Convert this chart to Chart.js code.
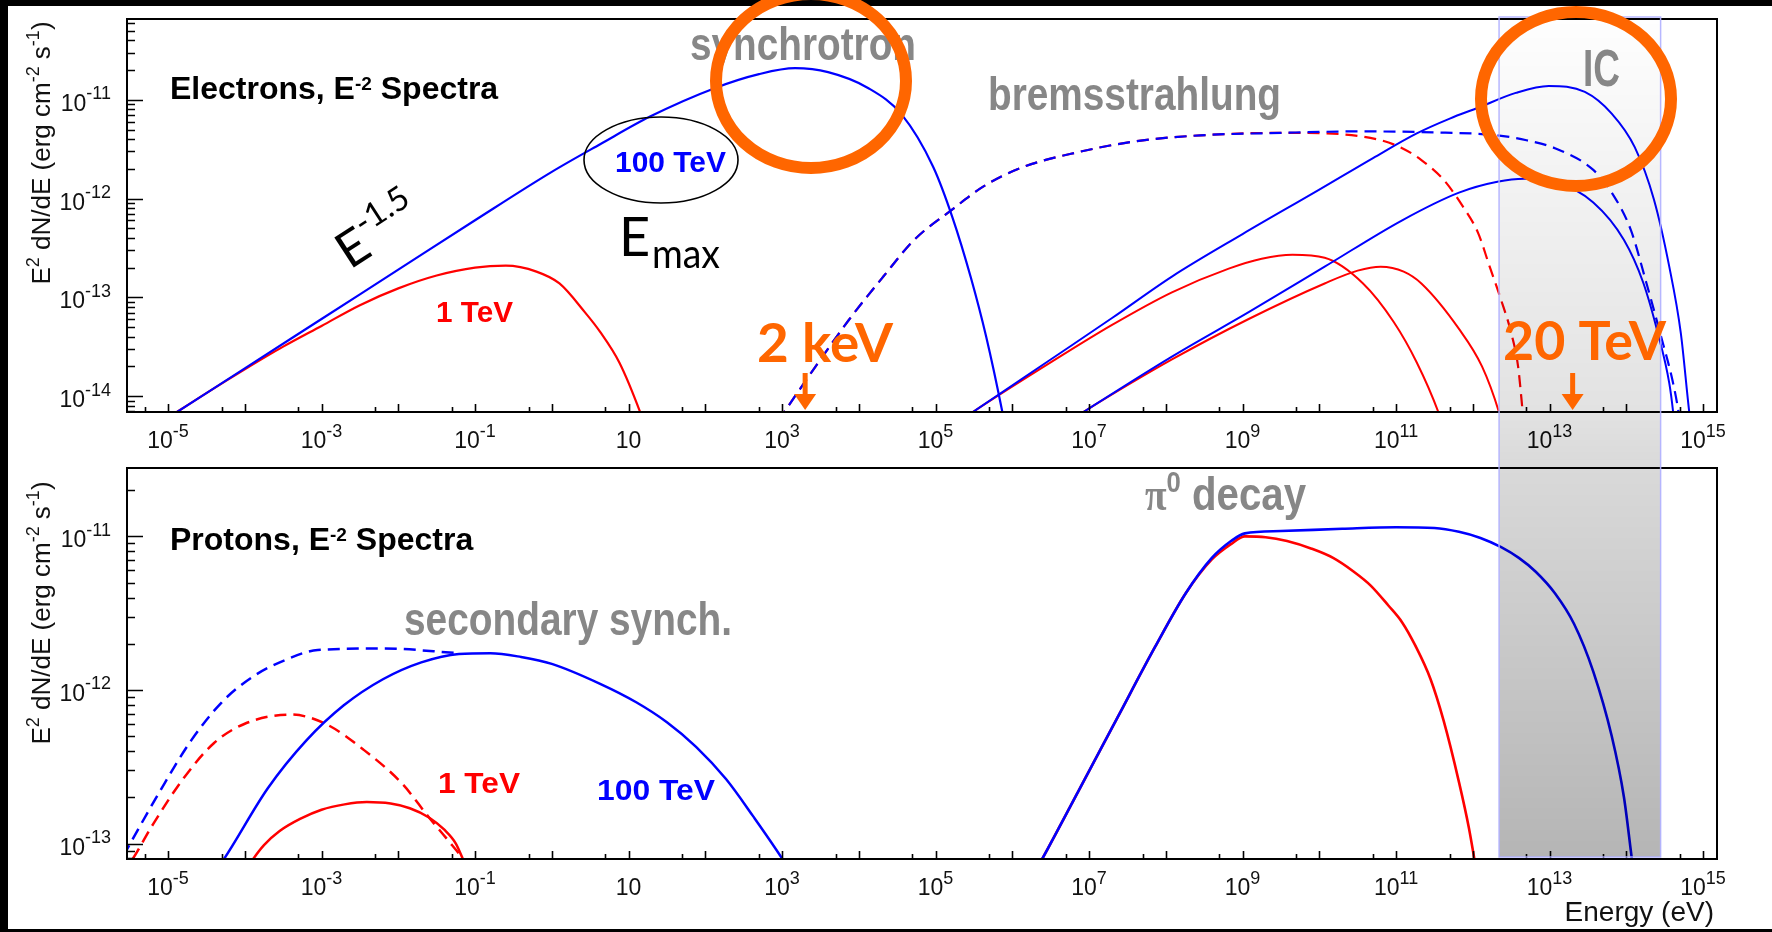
<!DOCTYPE html>
<html>
<head>
<meta charset="utf-8">
<title>Electron and proton E^-2 spectra</title>
<script src="https://cdn.jsdelivr.net/npm/chart.js@4.4.1/dist/chart.umd.min.js"></script>
<style>
  html, body { margin: 0; padding: 0; background: #000; }
  #page { position: relative; width: 1772px; height: 932px; background: #000; overflow: hidden; }
  #paper { position: absolute; left: 8px; top: 6px; width: 1764px; height: 923px; background: #fff; }
  canvas { position: absolute; left: 0; }
  #topChart { top: 0; }
  #bottomChart { top: 466px; }
  #notes { top: 0; pointer-events: none; }
</style>
</head>
<body>
<div id="page">
  <div id="paper"></div>
  <canvas id="topChart" width="1772" height="466" style="width:1772px;height:466px"></canvas>
  <canvas id="bottomChart" width="1772" height="466" style="width:1772px;height:466px"></canvas>
  <canvas id="notes" width="1772" height="932" style="width:1772px;height:932px"></canvas>
</div>
<script>
// ---- Axis ranges: photon energy (eV) and E^2 dN/dE (erg cm^-2 s^-1) ----
const energyRange = [2.92e-6, 1.52e15];
const fluxRangeElectrons = [6.89e-15, 6.58e-11];
const fluxRangeProtons = [7.93e-14, 2.79e-11];

// ---- Tick labels ----
const xTickValues = [1e-5, 1e-3, 1e-1, 1e1, 1e3, 1e5, 1e7, 1e9, 1e11, 1e13, 1e15];
const xTickLabels = ['10^-5', '10^-3', '10^-1', '10', '10^3', '10^5', '10^7', '10^9', '10^11', '10^13', '10^15'];
const yTickValuesElectrons = [1e-11, 1e-12, 1e-13, 1e-14];
const yTickLabelsElectrons = ['10^-11', '10^-12', '10^-13', '10^-14'];
const yTickValuesProtons = [1e-11, 1e-12, 1e-13];
const yTickLabelsProtons = ['10^-11', '10^-12', '10^-13'];

// Energy window shaded across both panels (eV)
const bandRange = [2.2e12, 2.8e14];
// Marked photon energies (eV) and their labels
const markerEnergies = [2e3, 2e13];
const markerLabels = ['2 keV', '20 TeV'];

// ---- Spectra, each point is [log10 E (eV), log10 E^2 dN/dE] ----
// Electrons: synchrotron
const elecSynch100 = [[-5.0,-14.22],[-4,-13.72],[-3,-13.22],[-2,-12.72],[-1,-12.22],[0,-11.73],[0.63,-11.45],[1.28,-11.17],[2.13,-10.88],[2.7,-10.74],[3.17,-10.68],[3.6,-10.72],[4.12,-10.88],[4.56,-11.15],[4.97,-11.68],[5.22,-12.19],[5.46,-12.80],[5.66,-13.40],[5.87,-14.16],[6.0,-14.7]];
const elecSynch1 = [[-5.0,-14.22],[-4.5,-13.97],[-4,-13.73],[-3.5,-13.50],[-3,-13.29],[-2.5,-13.08],[-2,-12.91],[-1.5,-12.78],[-1,-12.70],[-0.6,-12.68],[-0.2,-12.74],[0.1,-12.86],[0.43,-13.15],[0.63,-13.35],[0.88,-13.66],[1.15,-14.16],[1.3,-14.5]];
// Electrons: bremsstrahlung
const elecBrems100 = [[2.95,-14.25],[3.03,-14.16],[3.42,-13.72],[3.87,-13.23],[4.32,-12.79],[4.72,-12.42],[5.22,-12.11],[5.62,-11.88],[6.11,-11.69],[6.86,-11.53],[7.61,-11.42],[8.45,-11.36],[9.5,-11.335],[10.5,-11.32],[11.5,-11.33],[12.32,-11.36],[12.7,-11.41],[13.07,-11.49],[13.57,-11.71],[13.81,-11.94],[14.06,-12.32],[14.26,-12.85],[14.44,-13.36],[14.61,-13.87],[14.68,-14.16],[14.72,-14.4]];
const elecBrems1 = [[2.95,-14.25],[3.03,-14.16],[3.42,-13.72],[3.87,-13.23],[4.32,-12.79],[4.72,-12.42],[5.22,-12.11],[5.62,-11.88],[6.11,-11.69],[6.86,-11.53],[7.61,-11.42],[8.45,-11.36],[9.5,-11.335],[10.07,-11.34],[10.78,-11.405],[11.08,-11.49],[11.33,-11.61],[11.62,-11.81],[11.87,-12.08],[12.07,-12.35],[12.22,-12.69],[12.37,-13.03],[12.5,-13.36],[12.59,-13.70],[12.65,-14.16],[12.68,-14.4]];
// Electrons: inverse Compton (two target photon fields)
const elecIC100a = [[5.3,-14.26],[5.49,-14.16],[6.5,-13.63],[7.3,-13.21],[8.08,-12.79],[9.0,-12.36],[10.0,-11.91],[10.7,-11.59],[11.27,-11.34],[11.7,-11.19],[12.07,-11.08],[12.56,-10.93],[12.99,-10.86],[13.46,-10.92],[13.81,-11.14],[14.11,-11.48],[14.36,-12.01],[14.56,-12.69],[14.71,-13.36],[14.82,-14.16],[14.86,-14.4]];
const elecIC100b = [[6.75,-14.25],[6.93,-14.16],[8.08,-13.60],[9.08,-13.15],[10.07,-12.69],[11.08,-12.22],[11.82,-11.94],[12.32,-11.83],[12.67,-11.80],[13.07,-11.83],[13.57,-12.04],[13.97,-12.42],[14.22,-12.85],[14.41,-13.36],[14.56,-13.87],[14.61,-14.16],[14.64,-14.4]];
const elecIC1a = [[5.3,-14.26],[5.49,-14.16],[6.5,-13.66],[7.3,-13.28],[8.08,-12.95],[8.82,-12.71],[9.25,-12.61],[9.65,-12.57],[10.07,-12.60],[10.57,-12.86],[10.97,-13.25],[11.27,-13.66],[11.55,-14.16],[11.65,-14.4]];
const elecIC1b = [[6.75,-14.25],[6.93,-14.16],[8.08,-13.63],[9.08,-13.22],[10.07,-12.86],[10.5,-12.73],[10.8,-12.69],[11.1,-12.74],[11.33,-12.86],[11.82,-13.32],[12.12,-13.70],[12.34,-14.16],[12.42,-14.4]];

// Protons: synchrotron from secondary electrons
const protSec100Dash = [[-5.7,-13.19],[-5.47,-12.98],[-5.095,-12.65],[-4.70,-12.33],[-4.30,-12.08],[-3.90,-11.915],[-3.45,-11.80],[-3.05,-11.74],[-2.20,-11.73],[-1.21,-11.76]];
const protSec100 = [[-4.4,-13.19],[-4.27,-13.10],[-3.70,-12.64],[-3.20,-12.33],[-2.71,-12.10],[-2.20,-11.93],[-1.70,-11.82],[-1.21,-11.765],[-0.8,-11.76],[-0.4,-11.785],[0,-11.83],[0.63,-11.96],[1.1,-12.08],[1.5,-12.21],[1.88,-12.37],[2.27,-12.58],[2.62,-12.82],[3.03,-13.12],[3.15,-13.22]];
const protSec1Dash = [[-5.6,-13.20],[-5.46,-13.10],[-5.19,-12.87],[-4.79,-12.57],[-4.40,-12.345],[-4.0,-12.22],[-3.40,-12.16],[-2.95,-12.22],[-2.45,-12.39],[-1.95,-12.61],[-1.60,-12.83],[-1.35,-12.98],[-1.16,-13.10],[-1.1,-13.15]];
const protSec1 = [[-3.98,-13.17],[-3.89,-13.10],[-3.75,-13.01],[-3.55,-12.92],[-3.28,-12.84],[-3.0,-12.78],[-2.7,-12.745],[-2.41,-12.73],[-2.1,-12.74],[-1.85,-12.77],[-1.6,-12.83],[-1.4,-12.91],[-1.25,-13.0],[-1.16,-13.10],[-1.1,-13.18]];
// Protons: neutral pion decay
const protPi100 = [[6.3,-13.18],[6.39,-13.10],[6.86,-12.66],[7.37,-12.18],[7.86,-11.72],[8.26,-11.37],[8.6,-11.14],[8.85,-11.03],[9.03,-10.98],[9.5,-10.965],[10.3,-10.95],[11.0,-10.94],[11.5,-10.945],[11.82,-10.97],[12.1,-11.01],[12.37,-11.07],[12.6,-11.14],[12.82,-11.23],[13.07,-11.37],[13.32,-11.57],[13.57,-11.88],[13.81,-12.30],[13.97,-12.70],[14.06,-13.05],[14.12,-13.3]];
const protPi1 = [[6.3,-13.18],[6.39,-13.10],[6.86,-12.66],[7.37,-12.18],[7.86,-11.72],[8.26,-11.37],[8.6,-11.15],[8.85,-11.05],[9.03,-11.0],[9.3,-11.005],[9.58,-11.03],[9.9,-11.08],[10.18,-11.14],[10.45,-11.23],[10.67,-11.32],[10.9,-11.45],[11.08,-11.56],[11.25,-11.71],[11.45,-11.93],[11.62,-12.20],[11.82,-12.60],[11.95,-12.9],[12.02,-13.10],[12.08,-13.28]];

// ---- Styling ----
const RED = '#ff0000', BLUE = '#0000ff', ORANGE = '#ff6600', GREY = '#878787';
const SANS = '"Liberation Sans", Arial, Helvetica, sans-serif';
const HUMAN = 'Lato, "Open Sans", sans-serif';

const toPoints = arr => arr.map(([lx, ly]) => ({ x: Math.pow(10, lx), y: Math.pow(10, ly) }));
function curve(label, arr, color, dashed, width) {
  return {
    label, data: toPoints(arr), borderColor: color, backgroundColor: color,
    borderWidth: width, borderDash: dashed ? [12, 7] : [], pointRadius: 0,
    fill: false, cubicInterpolationMode: 'monotone'
  };
}

// Text with optional superscript parts: [{t, font, dy}]
function measureParts(ctx, parts) {
  let w = 0;
  for (const p of parts) { ctx.font = p.font; p.w = ctx.measureText(p.t).width; w += p.w; }
  return w;
}
function drawParts(ctx, parts, x, y, align) {
  const w = measureParts(ctx, parts);
  let cx = align === 'center' ? x - w / 2 : align === 'right' ? x - w : x;
  ctx.textAlign = 'left'; ctx.textBaseline = 'alphabetic';
  for (const p of parts) { ctx.font = p.font; ctx.fillText(p.t, cx, y + (p.dy || 0)); cx += p.w; }
  return w;
}
function fitParts(ctx, parts, x, y, width) {
  const w = measureParts(ctx, parts);
  ctx.save(); ctx.translate(x, y); ctx.scale(width / w, 1);
  drawParts(ctx, parts, 0, 0, 'left'); ctx.restore();
}
function powParts(label, size) {
  const [b, e] = label.split('^');
  const parts = [{ t: b, font: `${size}px ${SANS}` }];
  if (e) parts.push({ t: e, font: `${Math.round(size * 0.8)}px ${SANS}`, dy: -size * 0.5 });
  return parts;
}

// Frame, inward ticks, tick labels and axis titles in the style of a ROOT canvas
const rootFrame = {
  id: 'rootFrame',
  afterDatasetsDraw(chart, args, opts) {
    const { ctx, chartArea: a, scales: { x, y } } = chart;
    ctx.save();
    ctx.strokeStyle = '#000'; ctx.fillStyle = '#000';
    ctx.lineWidth = 2;
    ctx.strokeRect(a.left, a.top, a.right - a.left, a.bottom - a.top);
    ctx.lineWidth = 1.6;
    ctx.beginPath();
    for (let e = -16; e <= -9; e++) {
      for (let k = 1; k <= 9; k++) {
        const v = k * Math.pow(10, e);
        if (v < y.min || v > y.max) continue;
        const py = Math.round(y.getPixelForValue(v)) + 0.5;
        ctx.moveTo(a.left, py); ctx.lineTo(a.left + (k === 1 ? 16 : 8), py);
      }
    }
    for (let e = -6; e <= 16; e++) {
      for (const k of [1, 5]) {
        const v = k * Math.pow(10, e);
        if (v < x.min || v > x.max) continue;
        const px = Math.round(x.getPixelForValue(v)) + 0.5;
        ctx.moveTo(px, a.bottom); ctx.lineTo(px, a.bottom - (k === 1 ? 8 : 5));
      }
    }
    ctx.stroke();
    // tick labels
    ctx.fillStyle = '#111';
    opts.yValues.forEach((v, i) => {
      drawParts(ctx, powParts(opts.yLabels[i], 23), a.left - 16, y.getPixelForValue(v) + 11, 'right');
    });
    xTickValues.forEach((v, i) => {
      drawParts(ctx, powParts(xTickLabels[i], 23), x.getPixelForValue(v), a.bottom + 36, 'center');
    });
    // y title, rotated
    const s = 26, ss = 18, up = -11;
    const title = [
      { t: 'E', font: `${s}px ${SANS}` }, { t: '2', font: `${ss}px ${SANS}`, dy: up },
      { t: ' dN/dE (erg cm', font: `${s}px ${SANS}` }, { t: '-2', font: `${ss}px ${SANS}`, dy: up },
      { t: ' s', font: `${s}px ${SANS}` }, { t: '-1', font: `${ss}px ${SANS}`, dy: up },
      { t: ')', font: `${s}px ${SANS}` }
    ];
    ctx.save();
    ctx.translate(50, (a.top + opts.titleCenter));
    ctx.rotate(-Math.PI / 2);
    drawParts(ctx, title, 0, 0, 'center');
    ctx.restore();
    if (opts.xTitle) {
      ctx.font = `28px ${SANS}`; ctx.textAlign = 'right';
      ctx.fillText(opts.xTitle, a.right - 3, a.bottom + 62);
    }
    ctx.restore();
  }
};

function makeChart(id, datasets, yRange, padding, frameOpts) {
  return new Chart(document.getElementById(id), {
    type: 'line',
    data: { datasets },
    options: {
      responsive: false, animation: false, devicePixelRatio: 1, events: [],
      layout: { padding },
      plugins: { legend: { display: false }, tooltip: { enabled: false }, rootFrame: frameOpts },
      scales: {
        x: { type: 'logarithmic', min: energyRange[0], max: energyRange[1], display: false },
        y: { type: 'logarithmic', min: yRange[0], max: yRange[1], display: false }
      }
    },
    plugins: [rootFrame]
  });
}

// Earlier datasets are painted last, so the 100 TeV (blue) curves come first.
const topChart = makeChart('topChart', [
  curve('bremsstrahlung 100 TeV', elecBrems100, BLUE, true, 2.2),
  curve('synchrotron 100 TeV', elecSynch100, BLUE, false, 2.2),
  curve('IC 100 TeV (a)', elecIC100a, BLUE, false, 2),
  curve('IC 100 TeV (b)', elecIC100b, BLUE, false, 2),
  curve('bremsstrahlung 1 TeV', elecBrems1, RED, true, 2.2),
  curve('synchrotron 1 TeV', elecSynch1, RED, false, 2.2),
  curve('IC 1 TeV (a)', elecIC1a, RED, false, 2),
  curve('IC 1 TeV (b)', elecIC1b, RED, false, 2)
], fluxRangeElectrons, { left: 127, right: 55, top: 19, bottom: 54 },
  { yValues: yTickValuesElectrons, yLabels: yTickLabelsElectrons, titleCenter: 134 });

const bottomChart = makeChart('bottomChart', [
  curve('pi0 decay 100 TeV', protPi100, BLUE, false, 2.6),
  curve('secondary synch. 100 TeV', protSec100, BLUE, false, 2.5),
  curve('secondary synch. 100 TeV (dashed)', protSec100Dash, BLUE, true, 2.5),
  curve('pi0 decay 1 TeV', protPi1, RED, false, 2.6),
  curve('secondary synch. 1 TeV', protSec1, RED, false, 2.5),
  curve('secondary synch. 1 TeV (dashed)', protSec1Dash, RED, true, 2.5)
], fluxRangeProtons, { left: 127, right: 55, top: 2, bottom: 73 },
  { yValues: yTickValuesProtons, yLabels: yTickLabelsProtons, titleCenter: 145, xTitle: 'Energy (eV)' });

// ---- Annotations on a page-wide layer ----
(function drawNotes() {
  const ctx = document.getElementById('notes').getContext('2d');
  const xs = topChart.scales.x;
  const bottomOffset = 466;
  const topArea = topChart.chartArea, botArea = bottomChart.chartArea;

  // shaded energy window, darkening downwards
  const bx0 = xs.getPixelForValue(bandRange[0]), bx1 = xs.getPixelForValue(bandRange[1]);
  const by0 = topArea.top - 2, by1 = bottomOffset + botArea.bottom - 2;
  const g = ctx.createLinearGradient(0, by0, 0, by1);
  g.addColorStop(0, 'rgba(0,0,0,0.005)');
  g.addColorStop((topArea.bottom - by0) / (by1 - by0), 'rgba(0,0,0,0.115)');
  g.addColorStop((bottomOffset + botArea.top - by0) / (by1 - by0), 'rgba(0,0,0,0.15)');
  g.addColorStop(1, 'rgba(0,0,0,0.29)');
  ctx.fillStyle = g;
  ctx.fillRect(bx0, by0, bx1 - bx0, by1 - by0);
  ctx.strokeStyle = 'rgba(175,175,255,0.9)'; ctx.lineWidth = 1.5;
  ctx.strokeRect(bx0, by0, bx1 - bx0, by1 - by0);

  // panel titles
  ctx.fillStyle = '#000';
  const bold = n => `bold ${n}px ${SANS}`;
  drawParts(ctx, [{ t: 'Electrons, E', font: bold(32) }, { t: '-2', font: bold(19), dy: -9 }, { t: ' Spectra', font: bold(32) }], 170, 99, 'left');
  drawParts(ctx, [{ t: 'Protons, E', font: bold(32) }, { t: '-2', font: bold(19), dy: -9 }, { t: ' Spectra', font: bold(32) }], 170, 550, 'left');

  // process names
  ctx.fillStyle = GREY;
  fitParts(ctx, [{ t: 'synchrotron', font: bold(47) }], 690, 60, 226);
  fitParts(ctx, [{ t: 'bremsstrahlung', font: bold(47) }], 988, 110, 293);
  fitParts(ctx, [{ t: 'IC', font: bold(51) }], 1583, 86, 37);
  fitParts(ctx, [{ t: 'secondary synch.', font: bold(47) }], 404, 635, 328);
  fitParts(ctx, [{ t: 'π', font: `bold 46px "Liberation Serif", serif` }, { t: '0', font: bold(30), dy: -18 }, { t: ' decay', font: bold(47) }], 1145, 510, 161);

  // cutoff energies
  ctx.fillStyle = RED;
  fitParts(ctx, [{ t: '1 TeV', font: bold(29) }], 436, 322, 77);
  fitParts(ctx, [{ t: '1 TeV', font: bold(29) }], 438, 793, 82);
  ctx.fillStyle = BLUE;
  fitParts(ctx, [{ t: '100 TeV', font: bold(29) }], 615, 172, 111);
  fitParts(ctx, [{ t: '100 TeV', font: bold(30) }], 597, 800, 118);

  // E_max with ellipse
  ctx.strokeStyle = '#000'; ctx.lineWidth = 1.6;
  ctx.beginPath(); ctx.ellipse(661, 160, 77, 43, 0, 0, Math.PI * 2); ctx.stroke();
  ctx.fillStyle = '#000';
  ctx.font = `54px ${HUMAN}`; ctx.textAlign = 'left';
  ctx.fillText('E', 619, 256);
  fitParts(ctx, [{ t: 'max', font: `40px ${HUMAN}` }], 652, 268, 68);

  // slope label
  ctx.save();
  ctx.translate(350, 270);
  ctx.rotate(-33 * Math.PI / 180);
  ctx.font = `50px ${HUMAN}`;
  ctx.fillText('E', 0, 0);
  const wE = ctx.measureText('E').width;
  ctx.font = `33px ${HUMAN}`;
  ctx.fillText('-1.5', wE + 1, -22);
  ctx.restore();

  // highlight rings
  ctx.strokeStyle = ORANGE; ctx.lineWidth = 12;
  ctx.beginPath(); ctx.ellipse(811, 81, 95, 87, 0, 0, Math.PI * 2); ctx.stroke();
  ctx.beginPath(); ctx.ellipse(1576, 99, 95, 87, 0, 0, Math.PI * 2); ctx.stroke();

  // marked energies with arrows
  ctx.fillStyle = ORANGE;
  const labelBoxes = [[757, 362, 136], [1503, 360, 163]];
  markerEnergies.forEach((en, i) => {
    const px = xs.getPixelForValue(en);
    const tip = topArea.bottom - 2;
    ctx.fillRect(px - 2.5, 373, 5, tip - 373 - 14);
    ctx.beginPath();
    ctx.moveTo(px - 11, tip - 16); ctx.lineTo(px + 11, tip - 16); ctx.lineTo(px, tip); ctx.closePath(); ctx.fill();
    const [lx, ly, lw] = labelBoxes[i];
    fitParts(ctx, [{ t: markerLabels[i], font: `bold 54px ${HUMAN}` }], lx, ly, lw);
  });
})();
</script>
</body>
</html>
